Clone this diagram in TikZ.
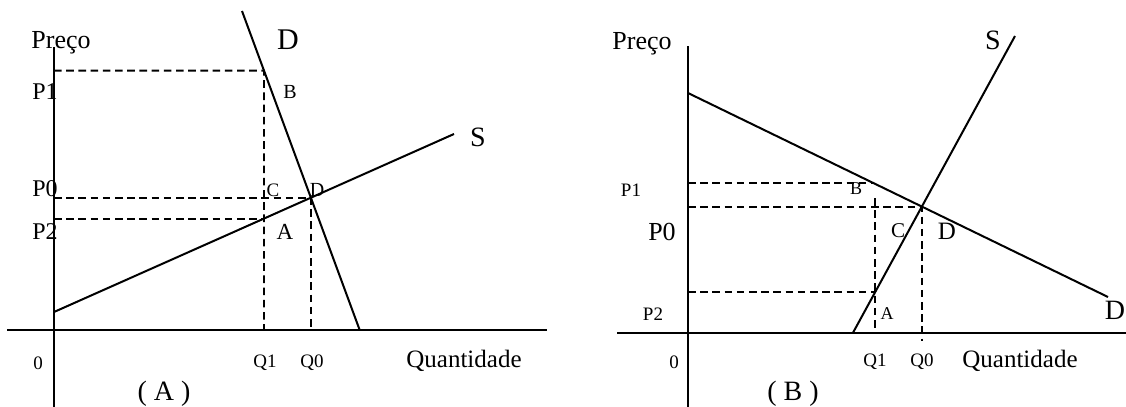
\documentclass[tikz,border=0pt]{standalone}
\usepackage{fontspec}
\setmainfont{Liberation Serif}
\usetikzlibrary{calc}

\begin{document}
\begin{tikzpicture}[
  x=0.5pt, y=-0.5pt,
  axis/.style={line width=1pt, black},
  curve/.style={line width=1pt, black},
  guide/.style={line width=0.95pt, black, dash pattern=on 3.8pt off 2.3pt},
  lbl/.style={inner sep=0pt, font=\fontsize{#1}{#1}\selectfont},
  lbl/.default=9.5pt]
\useasboundingbox (0,0) rectangle (1126,407);

% ---- panel (A): steep demand, flat supply
\coordinate (aXl) at (7,329.5);
\coordinate (aXr) at (547,329.5);
\coordinate (aYt) at (54,47);
\coordinate (aYb) at (54,407);
\coordinate (aS0) at (54,312);
\coordinate (aS1) at (454,134);
\coordinate (aD0) at (242,11);
\coordinate (aD1) at (359.5,329.5);
\coordinate (aE) at (intersection of aS0--aS1 and aD0--aD1);
\coordinate (aQ1) at (264,329.5);
\coordinate (aQ1t) at (264,0);
\coordinate (aB) at (intersection of aD0--aD1 and aQ1t--aQ1);
\coordinate (aA) at (intersection of aS0--aS1 and aQ1t--aQ1);
\draw[axis] (aXl) -- (aXr);
\draw[axis] (aYt) -- (aYb);
\draw[curve] (aS0) -- (aS1);
\draw[curve] (aD0) -- (aD1);
\draw[guide] (aB -| aYt) -- (aB) -- (aQ1);
\draw[guide] (aE -| aYt) -- (aE) -- (aE |- aXl);
\draw[guide] (aA -| aYt) -- (aA);
\node[lbl=13pt] (aPreco) at (61,43) {Preço};
\node[lbl=12pt] (aP1) at (45,92) {P1};
\node[lbl=12pt] (aP0) at (45,189) {P0};
\node[lbl=12pt] (aP2) at (45,232) {P2};
\node[lbl=15pt] (aDlab) at (288,40) {D};
\node[lbl=10pt] (aBlab) at (290,92) {B};
\node[lbl] (aClab) at (273,190) {C};
\node[lbl=10pt] (aElab) at (317,190) {D};
\node[lbl=11.5pt] (aAlab) at (285,232) {A};
\node[lbl=14pt] (aSlab) at (478,137) {S};
\node[lbl] (aZero) at (38,363) {0};
\node[lbl] (aQ1lab) at (265,363) {Q1};
\node[lbl] (aQ0lab) at (312,363) {Q0};
\node[lbl=12.5pt] (aQty) at (464,361) {Quantidade};
\node[lbl=14pt] (aTitle) at (164,394) {( A )};

% ---- panel (B): flat demand, steep supply
\coordinate (bXl) at (617,332.7);
\coordinate (bXr) at (1126,332.7);
\coordinate (bYt) at (688,46);
\coordinate (bYb) at (688,407);
\coordinate (bD0) at (688,93);
\coordinate (bD1) at (1108,297);
\coordinate (bS0) at (853,332.7);
\coordinate (bS1) at (1015,36);
\coordinate (bE) at (intersection of bS0--bS1 and bD0--bD1);
\coordinate (bQ1) at (875,332.7);
\coordinate (bQ1t) at (875,198);
\coordinate (bB) at (intersection of bD0--bD1 and {873,0}--{873,400});
\coordinate (bA) at (intersection of bS0--bS1 and bQ1t--bQ1);
\coordinate (bQ0b) at ($(bE |- bXl)+(0,8)$);
\draw[axis] (bXl) -- (bXr);
\draw[axis] (bYt) -- (bYb);
\draw[curve] (bD0) -- (bD1);
\draw[curve] (bS0) -- (bS1);
\draw[guide] (bB -| bYt) -- (bB);
\draw[guide] (bE -| bYt) -- (bE) -- (bQ0b);
\draw[guide] (bA -| bYt) -- (bA);
\draw[guide] (bQ1t) -- (bQ1);
\node[lbl=13pt] (bPreco) at (642,44) {Preço};
\node[lbl] (bP1) at (631,190) {P1};
\node[lbl=13pt] (bP0) at (662,232) {P0};
\node[lbl] (bP2) at (653,314) {P2};
\node[lbl] (bZero) at (674,362) {0};
\node[lbl=14pt] (bSlab) at (993,40) {S};
\node[lbl=9pt] (bBlab) at (856,189) {B};
\node[lbl=10.5pt] (bClab) at (898,231) {C};
\node[lbl=12.5pt] (bElab) at (947,231) {D};
\node[lbl=9pt] (bAlab) at (887,314) {A};
\node[lbl=14pt] (bDlab) at (1115,310) {D};
\node[lbl] (bQ1lab) at (875,362) {Q1};
\node[lbl] (bQ0lab) at (922,362) {Q0};
\node[lbl=12.5pt] (bQty) at (1020,361) {Quantidade};
\node[lbl=14pt] (bTitle) at (793,394) {( B )};
\end{tikzpicture}
\end{document}
